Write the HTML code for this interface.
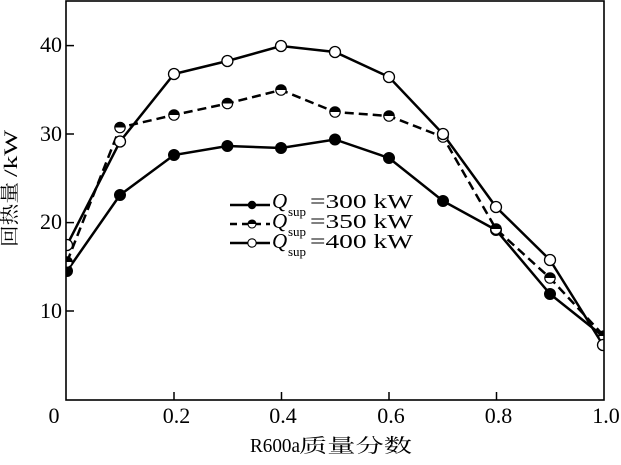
<!DOCTYPE html>
<html><head><meta charset="utf-8"><style>
html,body{margin:0;padding:0;background:#fff;}
svg{display:block;}
</style></head><body>
<svg width="621" height="465" viewBox="0 0 621 465" xmlns="http://www.w3.org/2000/svg">
<defs><clipPath id="c"><rect x="66" y="1" width="538" height="399"/></clipPath></defs>
<rect width="621" height="465" fill="#fff"/>
<g clip-path="url(#c)" stroke="#000" stroke-width="2.5" fill="none" stroke-linejoin="miter">
<polyline points="67,271 120,195 174,155 227.4,146 281,148 335,139.5 389,158 443,201 496,230 550,294 604,337"/>
<polyline stroke-dasharray="9,5" points="67,262 120,127.5 174,115 227.4,103.5 281,90 335,112 389,116 443,137 496,229 550,278 604,336"/>
<polyline points="67,245 120,141.5 174,74 227.4,61 281,46 335,52 389,77 443,134 496,207 550,260 603,345"/>
<g fill="#000" stroke-width="1">
<circle cx="67" cy="271" r="5.5"/><circle cx="120" cy="195" r="5.5"/><circle cx="174" cy="155" r="5.5"/><circle cx="227.4" cy="146" r="5.5"/><circle cx="281" cy="148" r="5.5"/><circle cx="335" cy="139.5" r="5.5"/><circle cx="389" cy="158" r="5.5"/><circle cx="443" cy="201" r="5.5"/><circle cx="496" cy="230" r="5.5"/><circle cx="550" cy="294" r="5.5"/><circle cx="604" cy="337" r="5.5"/>
</g>
<g stroke-width="1.2">
<g fill="#fff"><circle cx="67" cy="262" r="5.2"/><circle cx="120" cy="127.5" r="5.2"/><circle cx="174" cy="115" r="5.2"/><circle cx="227.4" cy="103.5" r="5.2"/><circle cx="281" cy="90" r="5.2"/><circle cx="335" cy="112" r="5.2"/><circle cx="389" cy="116" r="5.2"/><circle cx="443" cy="137" r="5.2"/><circle cx="496" cy="229" r="5.2"/><circle cx="550" cy="278" r="5.2"/><circle cx="604" cy="336" r="5.2"/></g>
<g fill="#000" stroke="none">
<path d="M61.8,262 A5.2,5.2 0 0 1 72.2,262 Z"/><path d="M114.8,127.5 A5.2,5.2 0 0 1 125.2,127.5 Z"/><path d="M168.8,115 A5.2,5.2 0 0 1 179.2,115 Z"/><path d="M222.2,103.5 A5.2,5.2 0 0 1 232.6,103.5 Z"/><path d="M275.8,90 A5.2,5.2 0 0 1 286.2,90 Z"/><path d="M329.8,112 A5.2,5.2 0 0 1 340.2,112 Z"/><path d="M383.8,116 A5.2,5.2 0 0 1 394.2,116 Z"/><path d="M437.8,137 A5.2,5.2 0 0 1 448.2,137 Z"/><path d="M490.8,229 A5.2,5.2 0 0 1 501.2,229 Z"/><path d="M544.8,278 A5.2,5.2 0 0 1 555.2,278 Z"/><path d="M598.8,336 A5.2,5.2 0 0 1 609.2,336 Z"/>
</g>
</g>
<g fill="#fff" stroke-width="1.3">
<circle cx="67" cy="245" r="5.5"/><circle cx="120" cy="141.5" r="5.5"/><circle cx="174" cy="74" r="5.5"/><circle cx="227.4" cy="61" r="5.5"/><circle cx="281" cy="46" r="5.5"/><circle cx="335" cy="52" r="5.5"/><circle cx="389" cy="77" r="5.5"/><circle cx="443" cy="134" r="5.5"/><circle cx="496" cy="207" r="5.5"/><circle cx="550" cy="260" r="5.5"/><circle cx="603" cy="345" r="5.5"/>
</g>
</g>
<rect x="66" y="1" width="538" height="399" fill="none" stroke="#000" stroke-width="1.6"/>
<g stroke="#000" stroke-width="1.5">
<line x1="66" y1="45.6" x2="74" y2="45.6"/><line x1="66" y1="134" x2="74" y2="134"/><line x1="66" y1="222.6" x2="74" y2="222.6"/><line x1="66" y1="311" x2="74" y2="311"/>
<line x1="174" y1="400" x2="174" y2="392"/><line x1="281.5" y1="400" x2="281.5" y2="392"/><line x1="389" y1="400" x2="389" y2="392"/><line x1="496.5" y1="400" x2="496.5" y2="392"/>
</g>
<g font-family="'Liberation Serif', serif" font-size="22" fill="#000">
<text x="62" y="52" text-anchor="end">40</text>
<text x="62" y="141" text-anchor="end">30</text>
<text x="62" y="229" text-anchor="end">20</text>
<text x="62" y="318" text-anchor="end">10</text>
<text x="54" y="423" text-anchor="middle">0</text>
<text x="176.5" y="423" text-anchor="middle">0.2</text>
<text x="283" y="423" text-anchor="middle">0.4</text>
<text x="391" y="423" text-anchor="middle">0.6</text>
<text x="498.5" y="423" text-anchor="middle">0.8</text>
<text x="606" y="423" text-anchor="middle">1.0</text>
</g>
<text x="250" y="452" font-family="'Liberation Serif', serif" font-size="20" textLength="50" lengthAdjust="spacingAndGlyphs">R600a</text>
<text x="299" y="452" font-family="'Liberation Serif','Noto Serif CJK SC', serif" font-size="19" textLength="113" lengthAdjust="spacingAndGlyphs">质量分数</text>
<g transform="translate(17,247) rotate(-90)">
<text x="0" y="-1" font-family="'Liberation Serif','Noto Serif CJK SC', serif" font-size="19" textLength="65" lengthAdjust="spacingAndGlyphs">回热量</text>
<text x="70" y="0" font-family="'Liberation Serif', serif" font-size="19" textLength="47" lengthAdjust="spacingAndGlyphs">/kW</text>
</g>
<g stroke="#000" stroke-width="2.5">
<line x1="230" y1="205" x2="270" y2="205"/>
<line x1="230" y1="224" x2="270" y2="224" stroke-dasharray="7,5"/>
<line x1="230" y1="243" x2="270" y2="243"/>
</g>
<circle cx="252" cy="205" r="4.2" fill="#000"/>
<circle cx="252" cy="224" r="4" fill="#fff" stroke="#000" stroke-width="1.1"/>
<path d="M248,224 A4,4 0 0 1 256,224 Z" fill="#000"/>
<circle cx="252" cy="243" r="4.2" fill="#fff" stroke="#000" stroke-width="1.1"/>
<g font-family="'Liberation Serif', serif" fill="#000">
<text x="272" y="208" font-size="21" font-style="italic">Q</text>
<text x="288" y="216" font-size="13">sup</text>
<text x="310" y="208" font-size="20" textLength="103" lengthAdjust="spacingAndGlyphs">=300 kW</text>
<text x="272" y="228" font-size="21" font-style="italic">Q</text>
<text x="288" y="236" font-size="13">sup</text>
<text x="310" y="228" font-size="20" textLength="103" lengthAdjust="spacingAndGlyphs">=350 kW</text>
<text x="272" y="248" font-size="21" font-style="italic">Q</text>
<text x="288" y="256" font-size="13">sup</text>
<text x="310" y="248" font-size="20" textLength="103" lengthAdjust="spacingAndGlyphs">=400 kW</text>
</g>
</svg>
</body></html>
